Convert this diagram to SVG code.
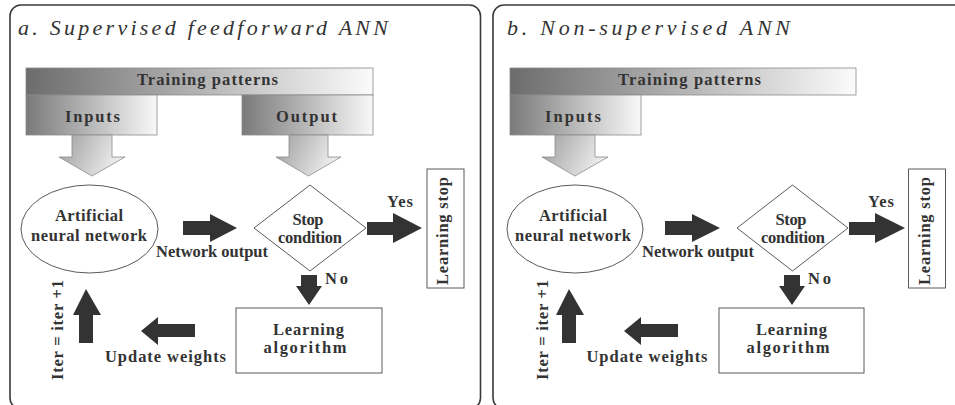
<svg xmlns="http://www.w3.org/2000/svg" width="955" height="405" viewBox="0 0 955 405" font-family="Liberation Serif, serif">
  <defs>
    <linearGradient id="gBar" x1="0" y1="0" x2="1" y2="0">
      <stop offset="0" stop-color="#6c6c6c"/>
      <stop offset="1" stop-color="#fbfbfb"/>
    </linearGradient>
    <linearGradient id="gBox" x1="0" y1="0" x2="1" y2="0">
      <stop offset="0" stop-color="#7a7a7a"/>
      <stop offset="1" stop-color="#f8f8f8"/>
    </linearGradient>
    <linearGradient id="gArrow" x1="0" y1="0" x2="1" y2="0.3">
      <stop offset="0" stop-color="#9c9c9c"/>
      <stop offset="1" stop-color="#eeeeee"/>
    </linearGradient>
  </defs>
  <style>
    .frame { fill: #ffffff; stroke: #3a3a3a; stroke-width: 1.6; }
    .bar { fill: url(#gBar); stroke: #8a8a8a; stroke-width: 0.8; }
    .src { fill: url(#gBox); stroke: #8a8a8a; stroke-width: 0.8; }
    .feed { fill: url(#gArrow); stroke: #8a8a8a; stroke-width: 0.8; }
    .shape { fill: #ffffff; stroke: #5a5a5a; stroke-width: 1; }
    .dark { fill: #333333; stroke: none; }
    .lbl { font-family: 'Liberation Serif', serif; font-weight: bold; font-size: 16.5px; text-anchor: middle; fill: #333333; }
    .title { font-family: 'Liberation Serif', serif; font-style: italic; font-size: 22px; fill: #333333; }
  </style>

  <!-- panel frames -->
  <rect class="frame" x="10" y="5" width="470.5" height="404" rx="11"/>
  <rect class="frame" x="493" y="5" width="472" height="404" rx="11"/>

  <!-- ===== a. supervised ===== -->
  <text class="title" x="18" y="35" textLength="370" lengthAdjust="spacing">a. Supervised feedforward ANN</text>

  <g id="a-training">
    <rect class="bar" x="26" y="68" width="347" height="27"/>
    <text class="lbl" x="207.5" y="85" textLength="141" lengthAdjust="spacing">Training patterns</text>
  </g>
  <g id="a-inputs">
    <rect class="src" x="26" y="95" width="131" height="40"/>
    <text class="lbl" x="92.5" y="122" textLength="55" lengthAdjust="spacing">Inputs</text>
  </g>
  <g id="a-output">
    <rect class="src" x="242" y="95" width="131" height="40"/>
    <text class="lbl" x="306.5" y="122" textLength="61" lengthAdjust="spacing">Output</text>
  </g>
  <g id="a-ann">
    <ellipse class="shape" cx="89.5" cy="229" rx="68.5" ry="44"/>
    <text class="lbl" x="89" y="221" textLength="68" lengthAdjust="spacing">Artificial</text>
    <text class="lbl" x="89" y="241" textLength="116" lengthAdjust="spacing">neural network</text>
  </g>
  <g id="a-stop">
    <polygon class="shape" points="310,185 366,228 310,271 254,228"/>
    <text class="lbl" x="308" y="225" textLength="31" lengthAdjust="spacing">Stop</text>
    <text class="lbl" x="310" y="243" textLength="64" lengthAdjust="spacing">condition</text>
  </g>
  <g id="a-learning-stop">
    <rect class="shape" x="427" y="169" width="37" height="119"/>
    <text class="lbl" transform="translate(448,231) rotate(-90)" x="0" y="0" textLength="108" lengthAdjust="spacing">Learning stop</text>
  </g>
  <g id="a-algorithm">
    <rect class="shape" x="236" y="308" width="146" height="65"/>
    <text class="lbl" x="308.5" y="335" textLength="71" lengthAdjust="spacing">Learning</text>
    <text class="lbl" x="305" y="353" textLength="83" lengthAdjust="spacing">algorithm</text>
  </g>

  <g id="a-connectors">
    <path class="feed" d="M72,135 H112 V157 H125 L92,176 L59,157 H72 Z"/>
    <path class="feed" d="M289,135 H328 V157 H341 L308.5,176 L276,157 H289 Z"/>
    <path class="dark" d="M183,221 H210 V214 L237,228 L210,242 V235 H183 Z"/>
    <text class="lbl" x="212" y="257" textLength="112" lengthAdjust="spacing">Network output</text>
    <path class="dark" d="M367,222 H393 V213 L422,228 L393,243 V235 H367 Z"/>
    <text class="lbl" x="400" y="207" textLength="26" lengthAdjust="spacing">Yes</text>
    <path class="dark" d="M301,275 H317 V286 H322 L309,305 L296,286 H301 Z"/>
    <text class="lbl" x="336.5" y="284" textLength="23" lengthAdjust="spacing">No</text>
    <path class="dark" d="M195,324 H158 V317 L141,331 L158,345 V337 H195 Z"/>
    <text class="lbl" x="165.5" y="362" textLength="121" lengthAdjust="spacing">Update weights</text>
    <path class="dark" d="M79,343 V315 H73 L86,289 L101,315 H93 V343 Z"/>
    <text class="lbl" transform="translate(63,330) rotate(-90)" x="0" y="0" textLength="100" lengthAdjust="spacing">Iter = iter +1</text>
  </g>

  <!-- ===== b. non-supervised ===== -->
  <text class="title" x="507" y="35" textLength="283" lengthAdjust="spacing">b. Non-supervised ANN</text>

  <g id="b-training">
    <rect class="bar" x="510" y="68" width="346" height="27"/>
    <text class="lbl" x="689.5" y="85" textLength="143" lengthAdjust="spacing">Training patterns</text>
  </g>
  <g id="b-inputs">
    <rect class="src" x="510" y="95" width="131" height="40"/>
    <text class="lbl" x="573" y="122" textLength="56" lengthAdjust="spacing">Inputs</text>
  </g>
  <g id="b-ann">
    <ellipse class="shape" cx="575" cy="229" rx="68" ry="44"/>
    <text class="lbl" x="573" y="221" textLength="68" lengthAdjust="spacing">Artificial</text>
    <text class="lbl" x="573" y="241" textLength="116" lengthAdjust="spacing">neural network</text>
  </g>
  <g id="b-stop">
    <polygon class="shape" points="792.5,185 848,228 792.5,271 737,228"/>
    <text class="lbl" x="791" y="225" textLength="31" lengthAdjust="spacing">Stop</text>
    <text class="lbl" x="793" y="243" textLength="64" lengthAdjust="spacing">condition</text>
  </g>
  <g id="b-learning-stop">
    <rect class="shape" x="908.5" y="169" width="37" height="119"/>
    <text class="lbl" transform="translate(930,231) rotate(-90)" x="0" y="0" textLength="108" lengthAdjust="spacing">Learning stop</text>
  </g>
  <g id="b-algorithm">
    <rect class="shape" x="719" y="308" width="145" height="65"/>
    <text class="lbl" x="791.5" y="335" textLength="71" lengthAdjust="spacing">Learning</text>
    <text class="lbl" x="788" y="353" textLength="83" lengthAdjust="spacing">algorithm</text>
  </g>

  <g id="b-connectors">
    <path class="feed" d="M555,135 H595 V157 H608 L575,176 L542,157 H555 Z"/>
    <path class="dark" d="M665,221 H692 V214 L720,228 L692,242 V235 H665 Z"/>
    <text class="lbl" x="698" y="257" textLength="112" lengthAdjust="spacing">Network output</text>
    <path class="dark" d="M849,222 H875 V213 L905,228 L875,243 V235 H849 Z"/>
    <text class="lbl" x="881" y="207" textLength="26" lengthAdjust="spacing">Yes</text>
    <path class="dark" d="M784,275 H800 V286 H805 L792,305 L779,286 H784 Z"/>
    <text class="lbl" x="819.5" y="284" textLength="23" lengthAdjust="spacing">No</text>
    <path class="dark" d="M678,324 H641 V317 L624,331 L641,345 V337 H678 Z"/>
    <text class="lbl" x="647" y="362" textLength="121" lengthAdjust="spacing">Update weights</text>
    <path class="dark" d="M562,343 V315 H556 L569,289 L584,315 H576 V343 Z"/>
    <text class="lbl" transform="translate(548,330) rotate(-90)" x="0" y="0" textLength="100" lengthAdjust="spacing">Iter = iter +1</text>
  </g>
</svg>
